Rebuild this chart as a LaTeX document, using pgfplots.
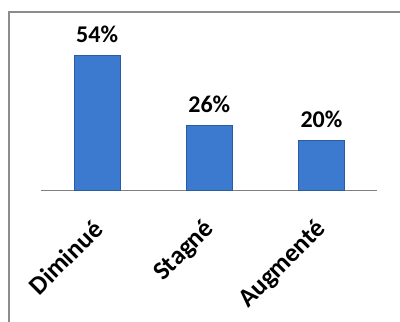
\documentclass[border=0pt]{standalone}
\usepackage{pgfplots}
\pgfplotsset{compat=1.18}
\usepackage{fontspec}
\setmainfont{Carlito}
\definecolor{barmid}{HTML}{3C7AD0}
\definecolor{baredge}{HTML}{2A5C9E}
\definecolor{framegray}{HTML}{8C8C8C}
\begin{document}
\begin{tikzpicture}
\useasboundingbox (0,0) rectangle (400pt,322pt);
\draw[color=framegray, line width=1.2pt] (9pt,-1pt) -- (9pt,310pt) -- (401pt,310pt);
\begin{axis}[
  at={(41pt,132pt)}, anchor=south west,
  scale only axis, width=336.5pt, height=150pt,
  xmin=-0.5, xmax=2.5, ymin=0, ymax=60,
  axis x line*=bottom, axis y line=none,
  x axis line style={draw=gray, line width=1pt, -},
  xtick={0,1,2}, xticklabels={Diminué,Stagné,Augmenté},
  ytick=\empty,
  major tick length=0pt,
  /pgf/number format/assume math mode=true,
  xticklabel style={font=\fontsize{26}{30}\selectfont\bfseries, xshift=1pt, yshift=-35pt, rotate=45, anchor=east, inner sep=0pt},
  ybar, bar width=46pt,
  nodes near coords={\pgfmathprintnumber{\pgfplotspointmeta}\%},
  every node near coord/.append style={font=\fontsize{24}{28}\selectfont\bfseries, anchor=base, inner sep=0pt, yshift=12.5pt},
  clip=false,
]
\addplot[draw=baredge, line width=0.8pt, fill=barmid] coordinates {(0,54) (1,26) (2,20)};
\end{axis}
\end{tikzpicture}
\end{document}
